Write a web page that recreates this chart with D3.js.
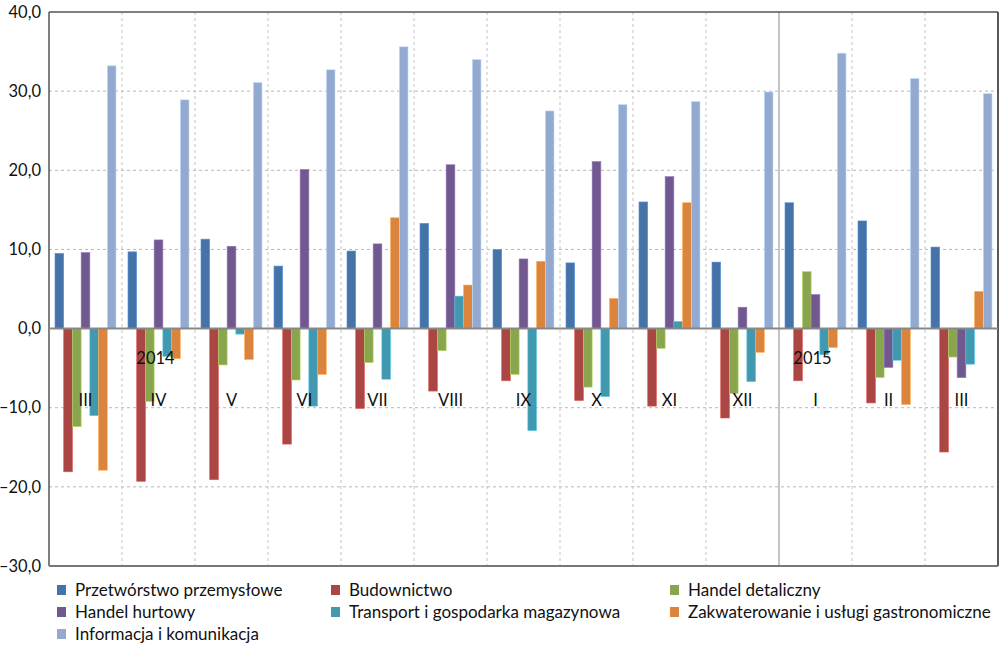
<!DOCTYPE html>
<html>
<head>
<meta charset="utf-8">
<script src="https://cdn.jsdelivr.net/npm/d3@7"></script>
<style>
  html, body { margin: 0; padding: 0; background: #fff; }
  svg { display: block; font-family: "Lato", "Open Sans", sans-serif; }
</style>
</head>
<body>
<svg id="chart" width="1000" height="648"></svg>
<script>
// ---- data ----
const months = ["III", "IV", "V", "VI", "VII", "VIII", "IX", "X", "XI", "XII", "I", "II", "III"];
const yearLabels = [{ index: 1, text: "2014" }, { index: 10, text: "2015" }];
const yearBreakIndex = 10;
const seriesNames = [
  "Przetwórstwo przemysłowe",
  "Budownictwo",
  "Handel detaliczny",
  "Handel hurtowy",
  "Transport i gospodarka magazynowa",
  "Zakwaterowanie i usługi gastronomiczne",
  "Informacja i komunikacja"
];
const przetworstwo   = [9.5, 9.7, 11.3, 7.9, 9.8, 13.3, 10.0, 8.3, 16.0, 8.4, 15.9, 13.6, 10.3];
const budownictwo    = [-18.1, -19.3, -19.1, -14.6, -10.1, -7.9, -6.6, -9.1, -9.8, -11.3, -6.6, -9.4, -15.6];
const detaliczny     = [-12.4, -9.2, -4.6, -6.5, -4.3, -2.8, -5.8, -7.4, -2.5, -8.2, 7.2, -6.2, -3.6];
const hurtowy        = [9.6, 11.2, 10.4, 20.1, 10.7, 20.7, 8.8, 21.1, 19.2, 2.7, 4.3, -4.9, -6.2];
const transport      = [-11.0, -3.5, -0.7, -9.8, -6.4, 4.1, -12.9, -8.6, 0.9, -6.7, -3.3, -4.0, -4.5];
const zakwaterowanie = [-17.9, -3.8, -3.9, -5.8, 14.0, 5.5, 8.5, 3.8, 15.9, -3.0, -2.4, -9.6, 4.7];
const informacja     = [33.2, 28.9, 31.1, 32.7, 35.6, 34.0, 27.5, 28.3, 28.7, 29.9, 34.8, 31.6, 29.7];
const yTicks = [-30, -20, -10, 0, 10, 20, 30, 40];

const seriesValues = [przetworstwo, budownictwo, detaliczny, hurtowy, transport, zakwaterowanie, informacja];
const colors = ["#4572A7", "#AA4643", "#89A54E", "#71588F", "#4198AF", "#DB843D", "#93A9CF"];

// ---- layout ----
const svg = d3.select("#chart");
const L = 49, R = 998, T = 12, B = 566;

const x0 = d3.scaleBand().domain(d3.range(months.length)).range([L, R]).paddingInner(0).paddingOuter(0);
const bw = x0.bandwidth();
const x1 = d3.scaleBand().domain(d3.range(seriesNames.length)).range([bw * 0.082, bw * 0.918]).padding(0);
const y = d3.scaleLinear().domain([-30, 40]).range([B, T]);

const fmt = v => (v < 0 ? "\u2013" : "") + d3.format(".1f")(Math.abs(v)).replace(".", ",");

// horizontal grid
svg.append("g").selectAll("line")
  .data(yTicks.filter(t => t !== 0 && t !== -30 && t !== 40))
  .join("line")
  .attr("x1", L).attr("x2", R)
  .attr("y1", d => y(d)).attr("y2", d => y(d))
  .attr("stroke", "#b8b8b8").attr("stroke-width", 1).attr("stroke-dasharray", "3,3");

// vertical grid
svg.append("g").selectAll("line")
  .data(d3.range(1, months.length))
  .join("line")
  .attr("x1", d => x0(d)).attr("x2", d => x0(d))
  .attr("y1", T).attr("y2", B)
  .attr("stroke", d => d === yearBreakIndex ? "#8a8a8a" : "#c4c4c4")
  .attr("stroke-width", 1)
  .attr("stroke-dasharray", d => d === yearBreakIndex ? null : "3,3");

// bars
const groups = svg.append("g").selectAll("g")
  .data(months.map((m, i) => i))
  .join("g")
  .attr("transform", i => `translate(${x0(i)},0)`);

groups.selectAll("rect")
  .data(i => seriesValues.map((arr, s) => ({ s, v: arr[i] })))
  .join("rect")
  .attr("x", d => x1(d.s))
  .attr("width", x1.bandwidth())
  .attr("y", d => y(Math.max(0, d.v)))
  .attr("height", d => Math.abs(y(d.v) - y(0)))
  .attr("fill", d => colors[d.s])
  .attr("stroke", d => d3.color(colors[d.s]).brighter(0.8))
  .attr("stroke-width", 0.6);

// frame
svg.append("line").attr("x1", L).attr("x2", R).attr("y1", T).attr("y2", T).attr("stroke", "#555").attr("stroke-width", 1.5);
svg.append("line").attr("x1", R).attr("x2", R).attr("y1", T).attr("y2", B).attr("stroke", "#222").attr("stroke-width", 1.5);
svg.append("line").attr("x1", L).attr("x2", L).attr("y1", T).attr("y2", B).attr("stroke", "#555").attr("stroke-width", 1.5);
svg.append("line").attr("x1", L).attr("x2", R).attr("y1", B).attr("y2", B).attr("stroke", "#777").attr("stroke-width", 2);
// zero line
svg.append("line").attr("x1", L).attr("x2", R).attr("y1", y(0)).attr("y2", y(0)).attr("stroke", "#888").attr("stroke-width", 2);

// y axis labels
const yAxis = d3.axisLeft(y).tickValues(yTicks).tickFormat(fmt).tickSize(0).tickPadding(8);
const ya = svg.append("g").attr("transform", `translate(${L},0)`).call(yAxis);
ya.select(".domain").remove();
ya.selectAll("text").attr("font-size", 16.5).attr("fill", "#111").attr("font-family", "Lato, sans-serif");

// month labels
svg.append("g").selectAll("text")
  .data(months)
  .join("text")
  .attr("x", (d, i) => x0(i) + bw / 2)
  .attr("y", 406)
  .attr("text-anchor", "middle")
  .attr("font-size", 16.5)
  .attr("fill", "#111")
  .text(d => d);

// year labels
svg.append("g").selectAll("text")
  .data(yearLabels)
  .join("text")
  .attr("x", d => x0(d.index) + bw / 2 - 3)
  .attr("y", 364)
  .attr("text-anchor", "middle")
  .attr("font-size", 16.5)
  .attr("fill", "#111")
  .text(d => d.text);

// legend
const legendX = [57, 331, 670];
const legendY = [590, 612, 634];
const lg = svg.append("g").selectAll("g")
  .data(seriesNames)
  .join("g")
  .attr("transform", (d, i) => `translate(${legendX[i % 3]},${legendY[Math.floor(i / 3)]})`);
lg.append("rect").attr("x", 0).attr("y", -5).attr("width", 9).attr("height", 10)
  .attr("fill", (d, i) => colors[i]);
lg.append("text").attr("x", 18).attr("y", 6).attr("font-size", 17).attr("fill", "#111").text(d => d);
</script>
</body>
</html>
